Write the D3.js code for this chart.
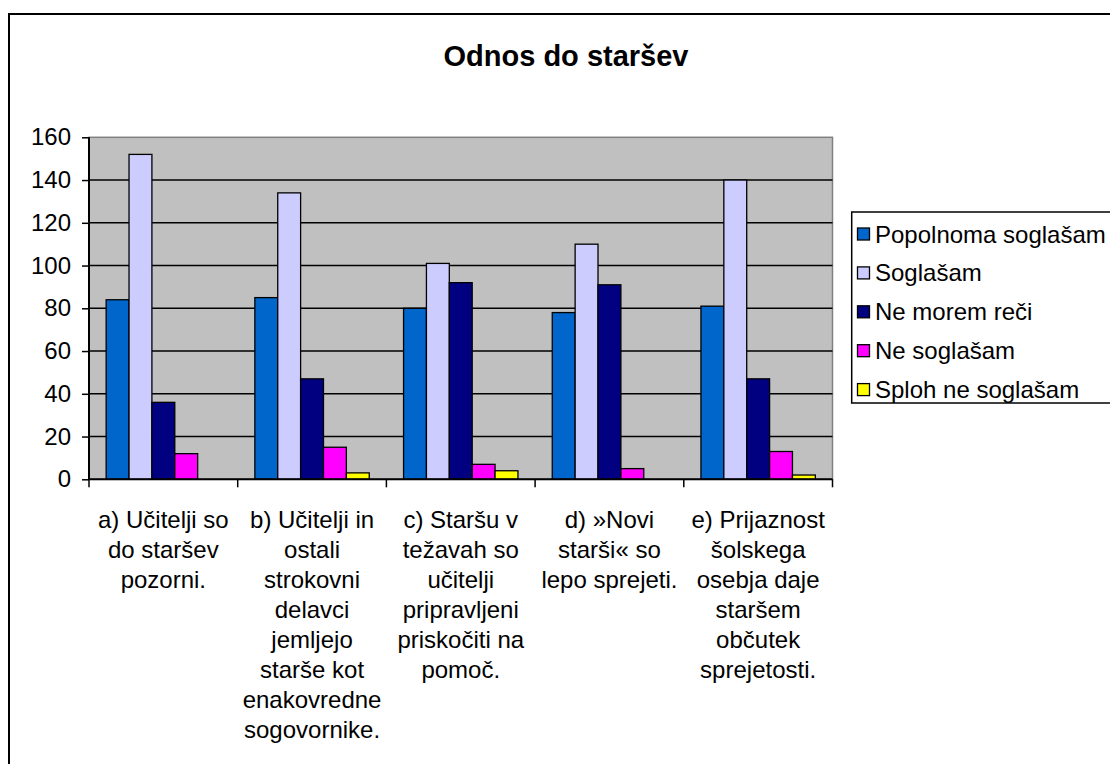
<!DOCTYPE html>
<html>
<head>
<meta charset="utf-8">
<script src="https://cdn.jsdelivr.net/npm/d3@7/dist/d3.min.js"></script>
<style>
  html, body { margin: 0; padding: 0; background: #ffffff; }
  svg { display: block; font-family: "Liberation Sans", Arial, sans-serif; }
</style>
</head>
<body>
<svg id="chart" width="1110" height="764"></svg>
<script>
const title = "Odnos do staršev";
const categories = ["a", "b", "c", "d", "e"];
const categoryLabels = [
  ["a) Učitelji so", "do staršev", "pozorni."],
  ["b) Učitelji in", "ostali", "strokovni", "delavci", "jemljejo", "starše kot", "enakovredne", "sogovornike."],
  ["c) Staršu v", "težavah so", "učitelji", "pripravljeni", "priskočiti na", "pomoč."],
  ["d) »Novi", "starši« so", "lepo sprejeti."],
  ["e) Prijaznost", "šolskega", "osebja daje", "staršem", "občutek", "sprejetosti."]
];
const seriesNames = ["Popolnoma soglašam", "Soglašam", "Ne morem reči", "Ne soglašam", "Sploh ne soglašam"];
const seriesColors = ["#0066CC", "#CCCCFF", "#000080", "#FF00FF", "#FFFF00"];
const popolnomaSoglasam = [84, 85, 80, 78, 81];
const soglasam = [152, 134, 101, 110, 140];
const neMoremReci = [36, 47, 92, 91, 47];
const neSoglasam = [12, 15, 7, 5, 13];
const splohNeSoglasam = [0, 3, 4, 0, 2];
const yTicks = [0, 20, 40, 60, 80, 100, 120, 140, 160];

const seriesValues = [popolnomaSoglasam, soglasam, neMoremReci, neSoglasam, splohNeSoglasam];

const svg = d3.select("#chart");
const plot = { left: 89, right: 832.5, top: 137.3, bottom: 479.3 };

// outer chart border
svg.append("rect")
  .attr("x", 9).attr("y", 14)
  .attr("width", 1140).attr("height", 800)
  .attr("fill", "#ffffff").attr("stroke", "#000").attr("stroke-width", 2);

// title
svg.append("text")
  .attr("x", 566).attr("y", 66)
  .attr("text-anchor", "middle")
  .attr("font-size", 29).attr("font-weight", "bold")
  .attr("fill", "#000")
  .text(title);

const y = d3.scaleLinear().domain([0, 160]).range([plot.bottom, plot.top]);
const x0 = d3.scaleBand().domain(categories).range([plot.left, plot.right]).padding(0);
const x1 = d3.scaleBand().domain(seriesNames).range([0, x0.bandwidth()]).paddingInner(0).paddingOuter(0.75);

// plot background
svg.append("rect")
  .attr("x", plot.left).attr("y", plot.top)
  .attr("width", plot.right - plot.left).attr("height", plot.bottom - plot.top)
  .attr("fill", "#C0C0C0").attr("stroke", "#808080").attr("stroke-width", 1.5);

// gridlines
svg.append("g").selectAll("line")
  .data(yTicks.filter(t => t > 0 && t < 160))
  .join("line")
  .attr("x1", plot.left).attr("x2", plot.right)
  .attr("y1", d => y(d)).attr("y2", d => y(d))
  .attr("stroke", "#000").attr("stroke-width", 1.4);

// bars
const groups = svg.append("g").selectAll("g")
  .data(categories)
  .join("g")
  .attr("transform", d => `translate(${x0(d)},0)`);

groups.selectAll("rect")
  .data((d, i) => seriesNames.map((s, j) => ({ s, j, v: seriesValues[j][i] })).filter(e => e.v > 0))
  .join("rect")
  .attr("x", d => x1(d.s))
  .attr("y", d => y(d.v))
  .attr("width", x1.bandwidth())
  .attr("height", d => y(0) - y(d.v))
  .attr("fill", d => seriesColors[d.j])
  .attr("stroke", "#000").attr("stroke-width", 1.3);

// y axis
const yAxis = d3.axisLeft(y).tickValues(yTicks).tickSize(7).tickPadding(11).tickFormat(d3.format("d"));
const yg = svg.append("g").attr("transform", `translate(${plot.left},0)`).call(yAxis);
yg.select(".domain").attr("stroke", "#000").attr("stroke-width", 2).attr("d", `M0,${plot.top}V${plot.bottom}`);
yg.selectAll(".tick line").attr("stroke", "#000").attr("stroke-width", 1.5);
yg.selectAll(".tick text").attr("font-size", 24).attr("fill", "#000").attr("font-family", "Liberation Sans, Arial, sans-serif");

// x axis line and boundary ticks
svg.append("line")
  .attr("x1", plot.left).attr("x2", plot.right)
  .attr("y1", plot.bottom).attr("y2", plot.bottom)
  .attr("stroke", "#000").attr("stroke-width", 2);
const boundaries = categories.map(c => x0(c)).concat([plot.right]);
svg.append("g").selectAll("line")
  .data(boundaries)
  .join("line")
  .attr("x1", d => d).attr("x2", d => d)
  .attr("y1", plot.bottom).attr("y2", plot.bottom + 8)
  .attr("stroke", "#000").attr("stroke-width", 1.5);

// category labels
const lab = svg.append("g").selectAll("text")
  .data(categories)
  .join("text")
  .attr("x", d => x0(d) + x0.bandwidth() / 2)
  .attr("y", 528)
  .attr("text-anchor", "middle")
  .attr("font-size", 24)
  .attr("fill", "#000");
lab.selectAll("tspan")
  .data((d, i) => categoryLabels[i])
  .join("tspan")
  .attr("x", function () { return this.parentNode.getAttribute("x"); })
  .attr("dy", (d, i) => i === 0 ? 0 : 30)
  .text(d => d);

// legend
const legend = svg.append("g");
legend.append("rect")
  .attr("x", 851.7).attr("y", 212)
  .attr("width", 400).attr("height", 191)
  .attr("fill", "#ffffff").attr("stroke", "#000").attr("stroke-width", 1.5);
const li = legend.selectAll("g.item")
  .data(seriesNames)
  .join("g")
  .attr("class", "item")
  .attr("transform", (d, i) => `translate(0,${234 + i * 38.9})`);
li.append("rect")
  .attr("x", 857.5).attr("y", -6)
  .attr("width", 12).attr("height", 12)
  .attr("fill", (d, i) => seriesColors[i])
  .attr("stroke", "#000").attr("stroke-width", 1.3);
li.append("text")
  .attr("x", 875).attr("y", 8.5)
  .attr("font-size", 24)
  .attr("fill", "#000")
  .text(d => d);
</script>
</body>
</html>
